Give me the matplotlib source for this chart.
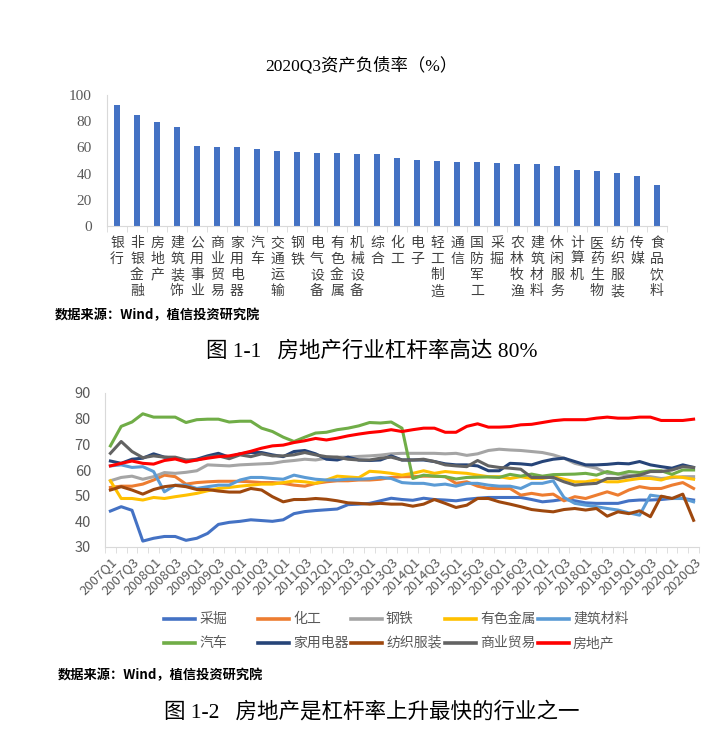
import matplotlib
matplotlib.use('Agg')
import matplotlib.pyplot as plt
from matplotlib.lines import Line2D
import numpy as np

plt.rcParams['font.family'] = ['Noto Sans CJK SC', 'DejaVu Sans']

# ---- top chart data: 2020Q3 debt ratio by industry ----
industries = ['银行', '非银金融', '房地产', '建筑装饰', '公用事业', '商业贸易', '家用电器',
              '汽车', '交通运输', '钢铁', '电气设备', '有色金属', '机械设备', '综合',
              '化工', '电子', '轻工制造', '通信', '国防军工', '采掘', '农林牧渔',
              '建筑材料', '休闲服务', '计算机', '医药生物', '纺织服装', '传媒', '食品饮料']
debt_ratio = [92.0, 84.5, 79.3, 75.4, 61.4, 60.6, 60.6, 59.0, 57.5, 56.7, 55.9, 55.9,
              55.2, 55.2, 52.0, 50.5, 49.7, 48.9, 48.9, 48.2, 47.4, 47.4, 45.8, 42.8,
              42.0, 40.5, 38.2, 31.3]

# ---- bottom chart data: quarterly debt ratio 2007Q1 - 2020Q3 ----
quarters = [f'{y}Q{q}' for y in range(2007, 2021) for q in range(1, 5)][:55]

caijue = [44.0, 45.7, 44.3, 32.3, 33.4, 34.1, 34.1, 32.6, 33.4, 35.3, 38.8, 39.6, 40.0, 40.6,
          40.3, 40.0, 40.6, 43.0, 43.8, 44.2, 44.5, 44.8, 46.5, 46.7, 47.0, 48.0, 49.0, 48.5,
          48.2, 49.0, 48.5, 48.3, 48.0, 48.6, 49.0, 49.3, 49.3, 49.3, 49.3, 48.5, 47.6, 48.0,
          48.6, 48.0, 47.2, 47.0, 47.0, 47.0, 48.0, 48.3, 48.3, 48.5, 48.9, 48.9, 48.3]
huagong = [53.2, 53.7, 53.7, 54.5, 56.1, 58.0, 57.4, 54.5, 55.1, 55.4, 55.6, 55.6, 55.6, 55.4,
           55.1, 55.1, 54.8, 54.1, 53.7, 54.8, 55.4, 55.8, 55.8, 56.1, 56.1, 56.4, 57.1, 57.4,
           57.4, 57.6, 57.6, 57.4, 54.8, 55.4, 53.7, 52.8, 52.8, 52.8, 50.2, 50.9, 50.2, 50.6,
           48.0, 49.6, 48.9, 50.2, 51.5, 50.2, 52.2, 53.5, 52.8, 52.8, 54.1, 55.1, 52.8]
gangtie = [55.8, 57.1, 57.6, 56.4, 57.4, 59.0, 58.7, 59.1, 59.7, 62.0, 61.8, 61.6, 62.0, 62.2,
           62.4, 62.6, 63.3, 63.7, 64.2, 63.9, 64.6, 65.0, 65.0, 65.3, 65.5, 65.8, 66.3, 66.5,
           66.5, 66.5, 66.5, 66.3, 66.5, 65.7, 66.3, 67.6, 68.1, 67.8, 67.6, 67.2, 66.8, 65.9,
           64.6, 62.6, 61.6, 60.7, 58.7, 58.5, 58.0, 57.6, 57.4, 56.7, 57.0, 57.4, 57.4]
youse = [55.8, 48.9, 48.9, 48.3, 49.3, 48.9, 49.6, 50.2, 50.9, 51.9, 52.8, 53.2, 53.7, 54.1,
         54.5, 54.5, 55.1, 55.7, 55.4, 54.8, 56.1, 57.6, 57.3, 57.0, 59.5, 59.2, 58.7, 58.0,
         58.7, 59.7, 58.7, 59.4, 59.0, 58.7, 58.0, 57.4, 57.4, 56.7, 57.4, 56.7, 56.7, 57.4,
         56.4, 55.4, 55.4, 56.1, 55.4, 55.4, 56.1, 56.7, 56.7, 56.1, 57.4, 57.1, 56.4]
jiancai = [61.6, 62.0, 61.0, 61.3, 59.4, 51.5, 54.1, 54.1, 52.8, 53.5, 54.1, 54.1, 56.1, 57.1,
           57.1, 56.7, 56.4, 58.0, 57.1, 56.4, 56.1, 56.1, 56.4, 56.4, 56.6, 57.1, 56.7, 55.1,
           54.8, 54.8, 54.1, 54.5, 53.7, 54.8, 54.8, 54.1, 53.7, 53.7, 52.8, 54.8, 54.8, 55.8,
           49.3, 47.0, 46.3, 45.7, 45.0, 44.4, 43.3, 42.4, 50.2, 49.6, 48.9, 48.9, 47.6]
qiche = [69.4, 77.0, 78.7, 81.9, 80.6, 80.6, 80.6, 78.5, 79.6, 79.8, 79.8, 78.7, 79.0, 79.0,
         76.3, 75.0, 72.8, 71.1, 72.8, 74.4, 74.7, 75.7, 76.3, 77.2, 78.5, 78.3, 78.7, 76.3,
         56.7, 58.0, 57.6, 57.4, 56.5, 57.1, 57.2, 57.3, 57.1, 58.3, 57.6, 58.4, 57.6, 58.2,
         58.3, 58.4, 58.7, 58.0, 59.4, 58.4, 59.4, 59.0, 59.7, 59.7, 58.3, 60.0, 60.0]
jiadian = [63.5, 62.6, 64.2, 64.6, 66.3, 65.0, 64.6, 63.5, 64.2, 65.5, 66.5, 65.0, 66.3, 66.8,
           66.8, 65.9, 65.2, 67.2, 67.6, 66.3, 64.2, 63.9, 65.0, 63.9, 63.7, 63.9, 65.5, 63.9,
           63.9, 63.9, 63.3, 62.4, 62.0, 62.0, 61.6, 59.7, 59.7, 62.6, 62.4, 62.0, 63.3, 64.2,
           64.6, 63.3, 62.0, 62.0, 62.2, 62.6, 62.4, 63.3, 62.0, 61.3, 60.7, 62.0, 61.0]
fangzhi = [52.2, 53.5, 52.2, 50.6, 52.4, 53.5, 54.0, 53.5, 52.4, 52.4, 51.8, 51.4, 51.4, 52.8,
           52.2, 49.6, 47.6, 48.5, 48.5, 48.9, 48.6, 48.0, 47.2, 47.0, 46.7, 47.0, 46.7, 46.7,
           45.9, 46.7, 48.5, 47.0, 45.4, 46.3, 48.9, 48.9, 47.6, 46.7, 45.7, 44.6, 44.1, 43.7,
           44.6, 45.0, 44.4, 45.0, 42.0, 43.7, 43.0, 44.1, 41.8, 49.8, 48.9, 50.6, 40.4]
shangmao = [66.5, 71.1, 67.2, 64.8, 65.5, 65.0, 65.0, 63.9, 63.9, 65.0, 65.5, 64.4, 65.9, 65.2,
            66.3, 65.5, 65.5, 65.9, 66.8, 65.9, 65.2, 65.0, 64.2, 63.9, 63.9, 64.6, 65.0, 63.9,
            63.9, 64.2, 63.3, 62.0, 61.6, 61.3, 63.7, 61.6, 61.0, 60.7, 60.3, 57.1, 57.1, 57.1,
            55.4, 54.1, 54.5, 54.8, 56.7, 56.7, 57.4, 58.0, 59.4, 59.4, 60.0, 61.3, 61.0]
fangdichan = [61.6, 62.6, 63.5, 62.6, 62.3, 63.7, 64.3, 63.1, 63.9, 64.6, 65.2, 65.5, 66.3, 67.3,
              68.5, 69.4, 69.7, 70.7, 71.4, 72.3, 71.7, 72.4, 73.3, 74.0, 74.6, 75.0, 75.7, 75.0,
              75.7, 76.3, 76.3, 74.7, 74.7, 77.0, 78.0, 76.7, 76.7, 76.9, 77.6, 77.8, 78.5, 79.2,
              79.6, 79.6, 79.6, 80.2, 80.6, 80.2, 80.2, 80.6, 80.6, 79.3, 79.3, 79.3, 79.8]

series_names = ['采掘', '化工', '钢铁', '有色金属', '建筑材料',
                '汽车', '家用电器', '纺织服装', '商业贸易', '房地产']
series_values = [caijue, huagong, gangtie, youse, jiancai,
                 qiche, jiadian, fangzhi, shangmao, fangdichan]
series_colors = ['#4472C4', '#ED7D31', '#A5A5A5', '#FFC000', '#5B9BD5',
                 '#70AD47', '#264478', '#9E480E', '#636363', '#FF0000']

W, H = 725, 732
axis_grey = '#D9D9D9'
text_grey = '#595959'
serif = ['Liberation Serif', 'Noto Sans CJK SC']

fig = plt.figure(figsize=(W / 100, H / 100), dpi=100)

# ---------- bar chart ----------
ax1 = fig.add_axes([107 / W, 1 - 226 / H, 560 / W, 131 / H])
xb = np.arange(len(industries))
ax1.bar(xb, debt_ratio, width=0.3, color='#4472C4')
ax1.set_xlim(-0.5, len(industries) - 0.5)
ax1.set_ylim(0, 100)
ax1.set_yticks(range(0, 101, 20))
ax1.set_xticks(xb)
ax1.set_xticklabels(['\n'.join(s) for s in industries], fontsize=10, color='#404040',
                    va='top', linespacing=1.2)
ax1.set_xticks(np.arange(-0.5, len(industries), 1), minor=True)
ax1.tick_params(axis='x', which='major', length=0, pad=7)
ax1.tick_params(axis='x', which='minor', length=4, color=axis_grey)
ax1.tick_params(axis='y', length=0, pad=11, labelsize=11, labelcolor=text_grey)
for lab in ax1.get_yticklabels():
    lab.set_family(serif)
for s in ['top', 'right']:
    ax1.spines[s].set_visible(False)
for s in ['left', 'bottom']:
    ax1.spines[s].set_color(axis_grey)

fig.text(0.499, 1 - 66 / H, '2020Q3资产负债率（%）', ha='center', va='center',
         fontsize=12.5, family=serif)
fig.text(55 / W, 1 - 315 / H, '数据来源：Wind，植信投资研究院', ha='left', va='center',
         fontsize=9.5, weight='bold')
fig.text(372 / W, 1 - 352 / H, '图 1-1   房地产行业杠杆率高达 80%', ha='center', va='center',
         fontsize=15.5, family=serif)

# ---------- line chart ----------
ax2 = fig.add_axes([105 / W, 1 - 547 / H, 594 / W, 154 / H])
xl = np.arange(len(quarters))
for name, vals, col in zip(series_names, series_values, series_colors):
    ax2.plot(xl, vals, color=col, lw=2.2, solid_joinstyle='round', label=name)
ax2.set_xlim(-0.5, len(quarters) - 0.5)
ax2.set_ylim(30, 90)
ax2.set_yticks(range(30, 91, 10))
ax2.set_xticks(xl[::2])
ax2.set_xticklabels(quarters[::2], rotation=45, ha='right', rotation_mode='anchor',
                    fontsize=9.5, color=text_grey)
ax2.set_xticks(np.arange(-0.5, len(quarters), 1), minor=True)
ax2.tick_params(axis='x', which='major', length=0, pad=6)
ax2.tick_params(axis='x', which='minor', length=4, color=axis_grey)
ax2.tick_params(axis='y', length=0, pad=10, labelsize=10.5, labelcolor=text_grey)
for s in ['top', 'right']:
    ax2.spines[s].set_visible(False)
for s in ['left', 'bottom']:
    ax2.spines[s].set_color(axis_grey)

# legend laid out like the Excel one: 5 columns, 2 rows
col_x = [164, 258, 351, 445, 538]
row_y = [619, 643]
for k, (name, col) in enumerate(zip(series_names, series_colors)):
    x0 = col_x[k % 5]
    y0 = 1 - row_y[k // 5] / H
    fig.add_artist(Line2D([x0 / W, (x0 + 31) / W], [y0, y0], color=col, lw=2.6,
                          transform=fig.transFigure))
    fig.text((x0 + 35) / W, y0, name, ha='left', va='center', fontsize=10, color=text_grey)

fig.text(58 / W, 1 - 675 / H, '数据来源：Wind，植信投资研究院', ha='left', va='center',
         fontsize=9.5, weight='bold')
fig.text(372 / W, 1 - 712 / H, '图 1-2   房地产是杠杆率上升最快的行业之一', ha='center',
         va='center', fontsize=15.5, family=serif)

fig.savefig('out.png', dpi=100)
